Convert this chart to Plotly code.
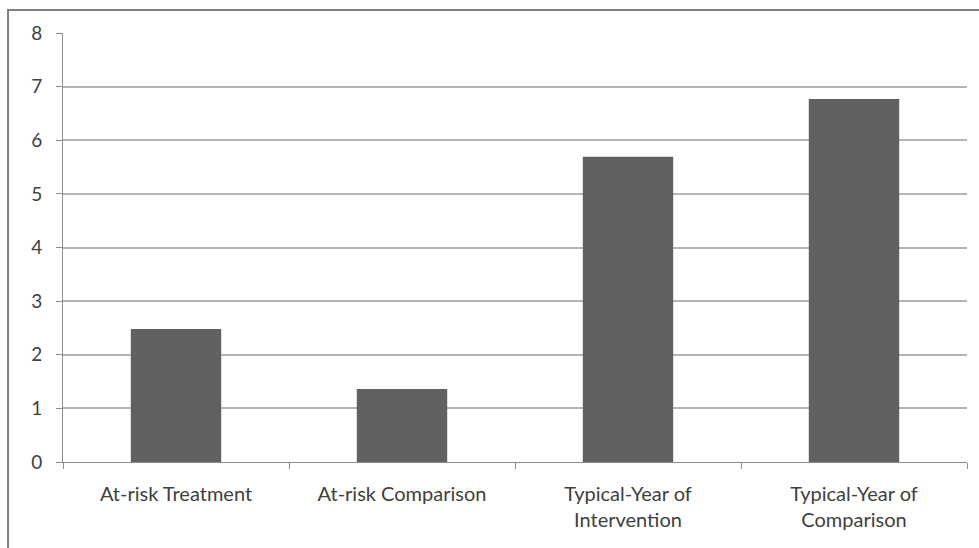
import plotly.graph_objects as go

# Category labels (two-line labels break with <br>)
categories = [
    "At-risk Treatment",
    "At-risk Comparison",
    "Typical-Year of<br>Intervention",
    "Typical-Year of<br>Comparison",
]
values = [2.48, 1.36, 5.69, 6.77]
y_ticks = [0, 1, 2, 3, 4, 5, 6, 7, 8]

FONT = "Lato"
TEXT = "#404040"
GRID = "#b4b4b4"
AXIS = "#8c8c8c"

fig = go.Figure(
    go.Bar(
        x=categories,
        y=values,
        marker=dict(color="#616161", line=dict(width=0)),
        hoverinfo="x+y",
    )
)

fig.update_layout(
    width=979,
    height=548,
    margin=dict(l=63, r=12, t=33, b=86),
    paper_bgcolor="white",
    plot_bgcolor="white",
    bargap=0.6,
    showlegend=False,
    font=dict(family=FONT, size=20, color=TEXT),
    xaxis=dict(
        type="category",
        range=[-0.5, 3.5],
        tickson="boundaries",
        ticks="outside",
        ticklen=6,
        tickcolor=AXIS,
        showline=True,
        linecolor=AXIS,
        linewidth=1,
        showgrid=False,
        tickfont=dict(family=FONT, size=20, color=TEXT),
        ticklabelstandoff=14,
    ),
    yaxis=dict(
        range=[0, 8],
        tickvals=y_ticks,
        ticks="outside",
        ticklen=6,
        tickcolor=AXIS,
        showline=True,
        linecolor=AXIS,
        linewidth=1,
        showgrid=True,
        gridcolor=GRID,
        gridwidth=1.5,
        zeroline=False,
        tickfont=dict(family=FONT, size=19, color=TEXT),
        ticklabelstandoff=10,
    ),
    shapes=[
        # chart frame, running past the right and bottom edges
        dict(
            type="rect",
            xref="paper",
            yref="paper",
            x0=-0.0608,
            x1=1.2,
            y0=-0.5,
            y1=1.0536,
            line=dict(color="#7f7f7f", width=2),
            fillcolor="rgba(0,0,0,0)",
            layer="below",
        )
    ],
)

fig.write_html("out.html")
